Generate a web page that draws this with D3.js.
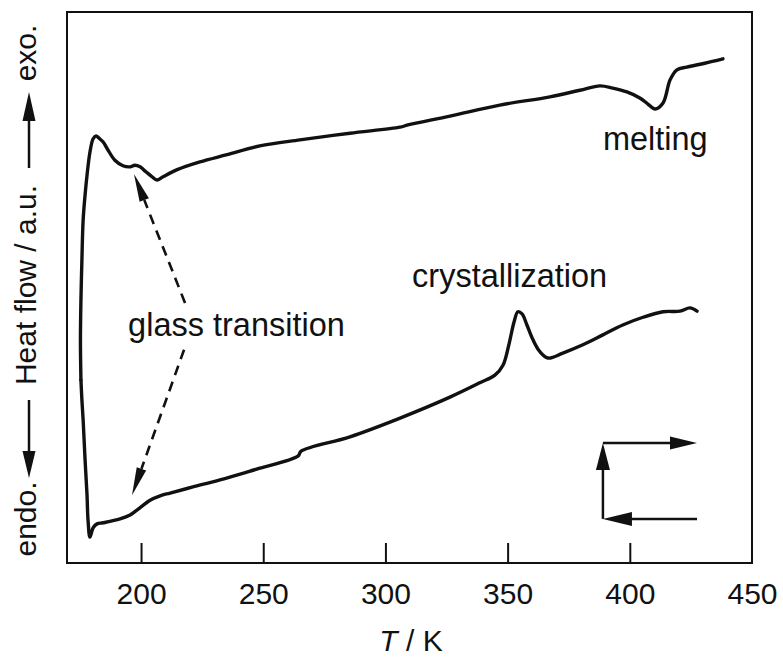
<!DOCTYPE html>
<html><head><meta charset="utf-8">
<script src="https://cdn.jsdelivr.net/npm/d3@7"></script>
<style>body{margin:0;background:#fff}svg{display:block}text{font-family:"Liberation Sans",Arial,sans-serif;fill:#111}</style>
</head><body>
<svg id="c" width="783" height="657"></svg>
<script>
// Temperature ticks (K)
const xTicks = [200, 250, 300, 350, 400, 450];
// Upper trace (cooling branch shown on top): T in K, heat flow in a.u.
const upperT = [175.4,175.2,175.4,175.8,176.3,177.1,177.9,179.1,180.4,181.6,182.8,184.5,186.4,189.3,192.6,195.5,197.5,199.6,202.0,204.5,206.5,209.0,214.8,224.1,235.2,248.6,265.0,285.5,306.0,309.2,326.4,346.8,367.3,379.6,387.8,393.0,398.8,404.1,407.4,410.3,413.6,416.5,419.3,423.3,430.7,438.1];
const upperH = [33.2,40.5,47.7,55.0,62.2,66.8,70.4,74.6,77.0,77.5,77.1,76.4,75.0,73.1,72.1,71.9,72.2,71.9,71.0,70.1,69.5,70.1,71.4,72.8,74.1,75.7,76.8,78.0,79.1,79.5,81.1,83.1,84.6,85.8,86.6,86.2,85.5,84.4,83.3,82.4,83.5,87.7,89.5,90.0,90.7,91.5];
// Lower trace
const lowerT = [175.4,175.8,176.3,177.1,177.9,178.3,179.1,180.4,182.0,184.5,191.4,195.5,198.3,203.7,207.8,211.9,221.2,232.3,243.3,248.6,264.2,265.5,285.5,306.0,326.4,338.6,344.8,348.1,350.5,352.6,354.2,355.9,357.9,360.4,363.3,366.6,372.6,380.8,389.0,397.1,405.4,413.6,420.5,424.6,427.5];
const lowerH = [33.2,29.6,26.0,18.7,12.3,7.8,4.7,6.4,7.1,7.3,8.0,8.7,9.6,11.4,12.2,12.7,13.8,15.1,16.5,17.2,19.4,20.3,22.9,26.3,30.1,32.7,34.1,35.9,39.6,43.7,45.6,45.2,43.2,40.5,38.3,37.2,38.1,39.6,41.4,43.2,44.6,45.6,45.7,46.3,45.7];
// Annotation labels and anchors (data units)
const labels = ["glass transition", "crystallization", "melting"];
const labelT = [194.7, 310.9, 389.0];
const labelH = [41.2, 50.1, 75.0];
// glass-transition dashed arrows: [startT, startH, tipT, tipH]
const gtArrows = [[218.0, 47.2, 197.1, 70.6], [217.6, 38.7, 196.3, 12.3]];
// heating/cooling scheme arrows
const schemeT = [389.0, 427.5];
const schemeH = [8.0, 21.8];

const svg = d3.select("#c");
const L = 67, R = 752, T0 = 12, B = 563;
const x = d3.scaleLinear().domain([169.7, 450]).range([L, R]);
const y = d3.scaleLinear().domain([0, 100]).range([B, T0]);
const ink = "#111";

// frame
svg.append("rect").attr("x", L).attr("y", T0).attr("width", R - L).attr("height", B - T0)
  .attr("fill", "none").attr("stroke", ink).attr("stroke-width", 2);

// x axis: inner ticks, labels below
const ax = svg.append("g").attr("transform", `translate(0,${B})`)
  .call(d3.axisBottom(x).tickValues(xTicks).tickSize(-20).tickPadding(20).tickFormat(d3.format("d")));
ax.select(".domain").remove();
ax.selectAll(".tick line").attr("stroke", ink).attr("stroke-width", 2)
  .filter(d => d === 450).remove();
ax.selectAll(".tick text").attr("font-size", 30).attr("fill", ink)
  .attr("font-family", '"Liberation Sans",Arial,sans-serif').attr("dy", 0).attr("y", 41);

// x label
const xl = svg.append("text").attr("x", 411).attr("y", 651).attr("text-anchor", "middle").attr("font-size", 30);
xl.append("tspan").attr("font-style", "italic").text("T");
xl.append("tspan").text(" / K");

// y label
function head(g, tipX, tipY, dx, dy, len, hw) {
  const n = Math.hypot(dx, dy), ux = dx / n, uy = dy / n;
  const bx = tipX - ux * len, by = tipY - uy * len;
  g.append("path").attr("d", `M${tipX},${tipY}L${bx - uy * hw},${by + ux * hw}L${bx + uy * hw},${by - ux * hw}Z`).attr("fill", ink);
  return [bx, by];
}
const yl = svg.append("g");
const ylx = 36;
yl.append("text").attr("transform", `translate(${ylx},53) rotate(-90)`).attr("text-anchor", "middle").attr("font-size", 30).text("exo.");
yl.append("text").attr("transform", `translate(${ylx},285) rotate(-90)`).attr("text-anchor", "middle").attr("font-size", 30).text("Heat flow / a.u.");
yl.append("text").attr("transform", `translate(${ylx},519) rotate(-90)`).attr("text-anchor", "middle").attr("font-size", 30).text("endo.");
yl.append("line").attr("x1", 29).attr("x2", 29).attr("y1", 168).attr("y2", 115).attr("stroke", ink).attr("stroke-width", 2.5);
head(yl, 29, 92, 0, -1, 29, 6.5);
yl.append("line").attr("x1", 29).attr("x2", 29).attr("y1", 400).attr("y2", 455).attr("stroke", ink).attr("stroke-width", 2.5);
head(yl, 29, 478, 0, 1, 27, 6.5);

// traces
const line = d3.line().x(d => x(d[0])).y(d => y(d[1])).curve(d3.curveCatmullRom.alpha(0.5));
const up = upperT.map((t, i) => [t, upperH[i]]);
const lo = lowerT.map((t, i) => [t, lowerH[i]]);
[up, lo].forEach(dat => svg.append("path").attr("d", line(dat)).attr("fill", "none")
  .attr("stroke", ink).attr("stroke-width", 3.4).attr("stroke-linejoin", "round").attr("stroke-linecap", "round"));

// annotations
labels.forEach((s, i) => svg.append("text").attr("x", x(labelT[i])).attr("y", y(labelH[i])).attr("font-size", 32.5).text(s));

// dashed arrows
gtArrows.forEach(a => {
  const sx = x(a[0]), sy = y(a[1]), tx = x(a[2]), ty = y(a[3]);
  const [bx, by] = head(svg, tx, ty, tx - sx, ty - sy, 28, 5);
  svg.append("line").attr("x1", sx).attr("y1", sy).attr("x2", bx).attr("y2", by)
    .attr("stroke", ink).attr("stroke-width", 2.6).attr("stroke-dasharray", "10,7");
});

// scheme arrows
const sL = x(schemeT[0]), sR = x(schemeT[1]), sB = y(schemeH[0]), sTp = y(schemeH[1]);
const sg = svg.append("g");
sg.append("line").attr("x1", sL).attr("y1", sTp).attr("x2", sR - 20).attr("y2", sTp).attr("stroke", ink).attr("stroke-width", 2.5);
head(sg, sR, sTp, 1, 0, 27, 6.5);
sg.append("line").attr("x1", sL).attr("y1", sB).attr("x2", sL).attr("y2", sTp + 20).attr("stroke", ink).attr("stroke-width", 2.5);
head(sg, sL, sTp, 0, -1, 27, 7);
sg.append("line").attr("x1", sR).attr("y1", sB).attr("x2", sL + 20).attr("y2", sB).attr("stroke", ink).attr("stroke-width", 2.5);
head(sg, sL, sB, -1, 0, 29, 7);
</script>
</body></html>
